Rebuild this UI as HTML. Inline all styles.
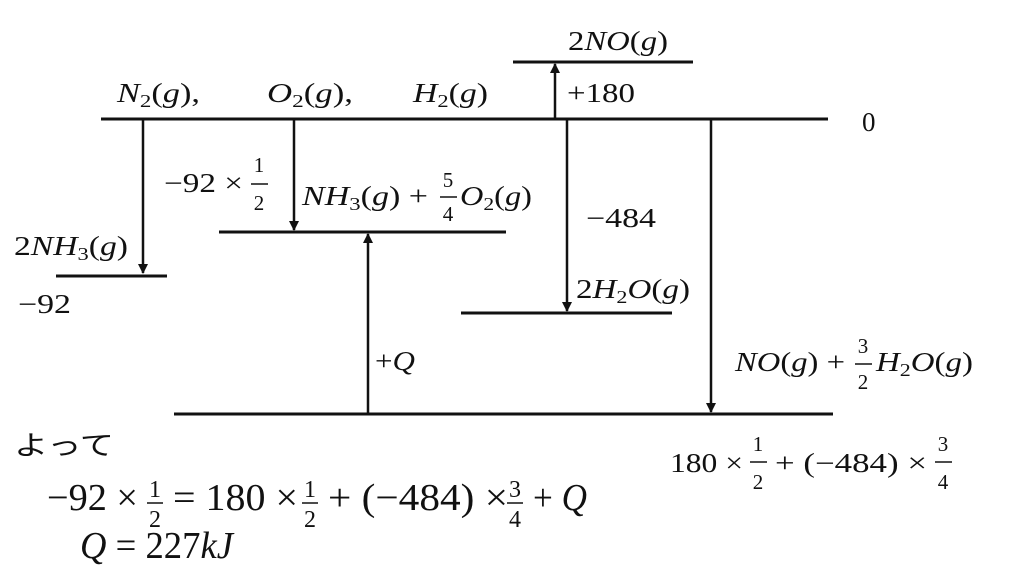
<!DOCTYPE html>
<html><head><meta charset="utf-8"><style>
html,body{margin:0;padding:0;background:#fff;width:1024px;height:576px;overflow:hidden}
svg{display:block}
text{font-family:"Liberation Serif","Noto Serif CJK SC",serif;font-size:27px;fill:#111}
.i{font-style:italic}
.s{font-size:18px}
.f{font-size:21px;text-anchor:middle}
.g{font-size:24px;text-anchor:middle}
.e{font-size:38px}
</style></head><body>
<svg width="1024" height="576" viewBox="0 0 1024 576">
<defs><marker id="a" viewBox="0 0 10 10" refX="9" refY="5" markerWidth="4" markerHeight="4" orient="auto"><path d="M0,0L10,5L0,10z" fill="#111"/></marker></defs>
<g stroke="#111" stroke-width="3">
<line x1="101" y1="119" x2="828" y2="119"/>
<line x1="513" y1="62" x2="693" y2="62"/>
<line x1="219" y1="232" x2="506" y2="232"/>
<line x1="56" y1="276" x2="167" y2="276"/>
<line x1="461" y1="313" x2="672" y2="313"/>
<line x1="174" y1="414" x2="833" y2="414"/>
</g>
<g stroke="#111" stroke-width="2.5" marker-end="url(#a)">
<line x1="143" y1="119" x2="143" y2="273"/>
<line x1="294" y1="119" x2="294" y2="230"/>
<line x1="555" y1="119" x2="555" y2="64"/>
<line x1="567" y1="119" x2="567" y2="311"/>
<line x1="711" y1="119" x2="711" y2="412"/>
<line x1="368" y1="414" x2="368" y2="234"/>
</g>
<text x="117" y="102" textLength="83" lengthAdjust="spacingAndGlyphs"><tspan class="i">N</tspan><tspan class="s" dy="5">2</tspan><tspan dy="-5">(</tspan><tspan class="i">g</tspan>),</text>
<text x="267" y="102" textLength="86" lengthAdjust="spacingAndGlyphs"><tspan class="i">O</tspan><tspan class="s" dy="5">2</tspan><tspan dy="-5">(</tspan><tspan class="i">g</tspan>),</text>
<text x="413" y="102" textLength="75" lengthAdjust="spacingAndGlyphs"><tspan class="i">H</tspan><tspan class="s" dy="5">2</tspan><tspan dy="-5">(</tspan><tspan class="i">g</tspan>)</text>
<text x="568" y="50" textLength="100" lengthAdjust="spacingAndGlyphs">2<tspan class="i">NO</tspan>(<tspan class="i">g</tspan>)</text>
<text x="567" y="102" textLength="68" lengthAdjust="spacingAndGlyphs">+180</text>
<text x="862" y="131">0</text>
<text x="164" y="192" textLength="79" lengthAdjust="spacingAndGlyphs">−92 ×</text>
<text x="259" y="172" class="f">1</text><line x1="251" y1="184" x2="268" y2="184" stroke="#111" stroke-width="1.5"/><text x="259" y="210" class="f">2</text>
<text x="302" y="205" textLength="126" lengthAdjust="spacingAndGlyphs"><tspan class="i">NH</tspan><tspan class="s" dy="5">3</tspan><tspan dy="-5">(</tspan><tspan class="i">g</tspan>) +</text>
<text x="448" y="187" class="f">5</text><line x1="440" y1="197" x2="457" y2="197" stroke="#111" stroke-width="1.5"/><text x="448" y="221" class="f">4</text>
<text x="460" y="205" textLength="72" lengthAdjust="spacingAndGlyphs"><tspan class="i">O</tspan><tspan class="s" dy="5">2</tspan><tspan dy="-5">(</tspan><tspan class="i">g</tspan>)</text>
<text x="14" y="255" textLength="114" lengthAdjust="spacingAndGlyphs">2<tspan class="i">NH</tspan><tspan class="s" dy="5">3</tspan><tspan dy="-5">(</tspan><tspan class="i">g</tspan>)</text>
<text x="18" y="313" textLength="53" lengthAdjust="spacingAndGlyphs">−92</text>
<text x="586" y="227" textLength="70" lengthAdjust="spacingAndGlyphs">−484</text>
<text x="576" y="298" textLength="114" lengthAdjust="spacingAndGlyphs">2<tspan class="i">H</tspan><tspan class="s" dy="5">2</tspan><tspan dy="-5" class="i">O</tspan>(<tspan class="i">g</tspan>)</text>
<text x="375" y="370" textLength="40" lengthAdjust="spacingAndGlyphs">+<tspan class="i">Q</tspan></text>
<text x="735" y="371" textLength="110" lengthAdjust="spacingAndGlyphs"><tspan class="i">NO</tspan>(<tspan class="i">g</tspan>) +</text>
<text x="863" y="353" class="f">3</text><line x1="855" y1="364" x2="872" y2="364" stroke="#111" stroke-width="1.5"/><text x="863" y="389" class="f">2</text>
<text x="876" y="371" textLength="97" lengthAdjust="spacingAndGlyphs"><tspan class="i">H</tspan><tspan class="s" dy="5">2</tspan><tspan dy="-5" class="i">O</tspan>(<tspan class="i">g</tspan>)</text>
<text x="670" y="472" textLength="73" lengthAdjust="spacingAndGlyphs">180 ×</text>
<text x="758" y="451" class="f">1</text><line x1="750" y1="462" x2="767" y2="462" stroke="#111" stroke-width="1.5"/><text x="758" y="489" class="f">2</text>
<text x="775" y="472" textLength="152" lengthAdjust="spacingAndGlyphs">+ (−484) ×</text>
<text x="943" y="451" class="f">3</text><line x1="935" y1="462" x2="952" y2="462" stroke="#111" stroke-width="1.5"/><text x="943" y="489" class="f">4</text>
<text x="14" y="455" textLength="100" lengthAdjust="spacingAndGlyphs" style="font-family:'Noto Sans CJK JP',sans-serif;font-size:27px">よって</text>
<text x="47" y="510" class="e" textLength="91" lengthAdjust="spacingAndGlyphs">−92 ×</text>
<text x="155" y="497" class="g">1</text><line x1="147" y1="503" x2="163" y2="503" stroke="#111" stroke-width="1.5"/><text x="155" y="527" class="g">2</text>
<text x="173" y="510" class="e" textLength="125" lengthAdjust="spacingAndGlyphs">= 180 ×</text>
<text x="310" y="497" class="g">1</text><line x1="302" y1="503" x2="318" y2="503" stroke="#111" stroke-width="1.5"/><text x="310" y="527" class="g">2</text>
<text x="328" y="510" class="e" textLength="180" lengthAdjust="spacingAndGlyphs">+ (−484) ×</text>
<text x="515" y="497" class="g">3</text><line x1="507" y1="503" x2="523" y2="503" stroke="#111" stroke-width="1.5"/><text x="515" y="527" class="g">4</text>
<text x="533" y="510" class="e" textLength="54" lengthAdjust="spacingAndGlyphs">+ <tspan class="i">Q</tspan></text>
<text x="80" y="558" class="e" textLength="153" lengthAdjust="spacingAndGlyphs"><tspan class="i">Q</tspan> = 227<tspan class="i">kJ</tspan></text>
</svg>
</body></html>
